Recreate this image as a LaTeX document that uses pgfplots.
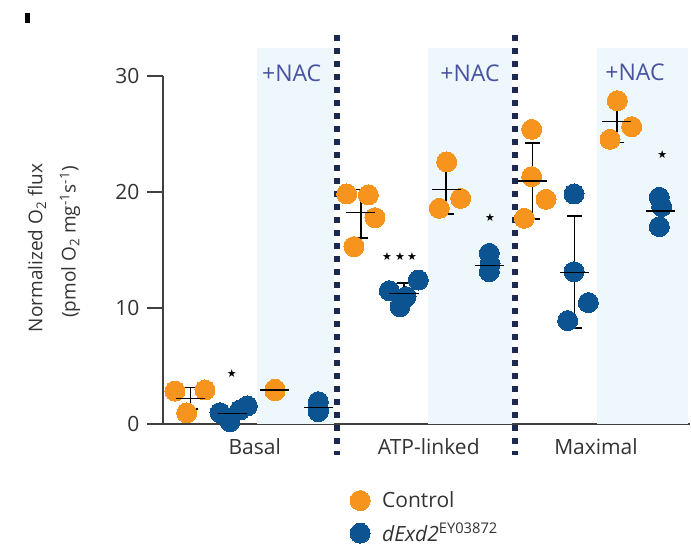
\documentclass[border=0pt]{standalone}
\usepackage{pgfplots}
\pgfplotsset{compat=1.18}
\usepackage{fontspec}
\setmainfont{Open Sans}
\newfontfamily\symfont{DejaVu Sans}
\definecolor{corange}{RGB}{247,148,29}
\definecolor{cblue}{RGB}{11,83,145}
\definecolor{navy}{RGB}{27,40,80}
\definecolor{shadebg}{RGB}{238,247,252}
\definecolor{nacblue}{RGB}{72,82,160}
\definecolor{axgray}{RGB}{64,64,64}
\definecolor{txtgray}{RGB}{51,51,51}
\pgfplotstableread{
x y
175 2.84
205 2.93
186.7 0.95
275 2.93
275 2.86
275 3.00
346.7 19.83
368.3 19.74
375 17.79
354 15.29
446.7 22.6
460.7 19.45
439.3 18.59
531.7 25.4
531.7 21.32
546 19.37
524.3 17.73
617.3 27.87
631.7 25.63
610 24.54
}\ctrl
\pgfplotstableread{
x y
220 0.97
230 0.2
240 1.21
247.3 1.55
318.3 1.92
318.3 1.06
318.3 1.3
389.3 11.49
400 10.11
406 10.98
418.3 12.41
489.3 14.71
489.3 13.13
490 13.8
574 19.83
574 13.13
588.3 10.46
567.7 8.91
659.3 19.54
661.7 18.74
659.3 17.01
}\mut
\pgfplotstableread{
x y ep em
190.7 2.2 0.93 0.93
232.7 0.92 0.35 0.43
275 2.93 0.23 0.20
318.3 1.41 0.43 0.44
361 18.22 2.01 2.21
404 11.26 0.87 1.0
446 20.23 2.04 2.15
489.3 13.65 0.92 0.95
532.3 20.95 3.25 3.28
574.3 13.05 4.88 4.8
616.7 26.06 1.64 1.78
660 18.36 1.24 1.12
}\summ
\begin{document}
\begin{tikzpicture}
\begin{axis}[
  scale only axis, width=527pt, height=348pt,
  xmin=163, xmax=690, ymin=0, ymax=30,
  clip=false,
  axis lines*=left,
  axis line style={-, draw=axgray, line width=1.3pt},
  xtick=\empty,
  ytick={0,10,20,30},
  ytick pos=left, tick align=outside,
  major tick length=16pt,
  ytick style={draw=axgray, line width=1.3pt},
  yticklabel style={font=\fontsize{21}{25}\selectfont, text=txtgray, xshift=-4pt},
  /pgf/number format/assume math mode=true,
  legend style={draw=none, fill=none, at={(axis description cs:0.349,-0.183)}, anchor=north west,
    font=\fontsize{21}{25}\selectfont, text=txtgray, row sep=10pt, column sep=10pt},
  legend cell align=left,
]
% shaded +NAC regions
\addplot[fill=shadebg, draw=none, forget plot] coordinates {(257,32.41) (333.7,32.41)} \closedcycle;
\addplot[fill=shadebg, draw=none, forget plot] coordinates {(427.7,32.41) (512,32.41)} \closedcycle;
\addplot[fill=shadebg, draw=none, forget plot] coordinates {(597,32.41) (688,32.41)} \closedcycle;
% dotted separators
\addplot[navy, line width=6pt, dash pattern=on 6pt off 7pt, forget plot] coordinates {(336.7,33.53) (336.7,-2.67)};
\addplot[navy, line width=6pt, dash pattern=on 6pt off 7pt, forget plot] coordinates {(515,33.53) (515,-2.67)};
% points
\addplot[only marks, color=corange, mark=*, mark size=10pt, mark options={draw=corange, fill=corange, line width=0pt}] table[x=x,y=y] {\ctrl};
\addlegendentry{Control}
\addplot[only marks, color=cblue, mark=*, mark size=10pt, mark options={draw=cblue, fill=cblue, line width=0pt}] table[x=x,y=y] {\mut};
\addlegendentry{\textit{dExd2}\textsuperscript{EY03872}}
% mean and error bars
\addplot[only marks, black, mark=-, mark size=14.5pt, mark options={black, line width=1.6pt}, forget plot,
  error bars/.cd, y dir=both, y explicit,
  error mark=|,
  error bar style={black, line width=1.6pt},
  error mark options={black, line width=1.6pt, mark size=7.5pt}]
  table[x=x, y=y, y error plus=ep, y error minus=em] {\summ};
% significance stars
\node[font=\symfont\fontsize{11}{11}\selectfont] at (axis cs:231.7,4.37) {★};
\node[font=\symfont\fontsize{11}{11}\selectfont] at (axis cs:387,14.4) {★};
\node[font=\symfont\fontsize{11}{11}\selectfont] at (axis cs:400,14.4) {★};
\node[font=\symfont\fontsize{11}{11}\selectfont] at (axis cs:412,14.4) {★};
\node[font=\symfont\fontsize{11}{11}\selectfont] at (axis cs:490,17.79) {★};
\node[font=\symfont\fontsize{11}{11}\selectfont] at (axis cs:662.3,23.19) {★};
% +NAC labels
\node[anchor=base, font=\fontsize{23}{27}\selectfont, text=nacblue] at (axis cs:291.7,29.51) {+NAC};
\node[anchor=base, font=\fontsize{23}{27}\selectfont, text=nacblue] at (axis cs:470,29.51) {+NAC};
\node[anchor=base, font=\fontsize{23}{27}\selectfont, text=nacblue] at (axis cs:635,29.6) {+NAC};
% category labels
\node[anchor=base, font=\fontsize{21}{25}\selectfont, text=txtgray] at (axis cs:254.7,-2.67) {Basal};
\node[anchor=base, font=\fontsize{21}{25}\selectfont, text=txtgray] at (axis cs:428.8,-2.67) {ATP-linked};
\node[anchor=base, font=\fontsize{21}{25}\selectfont, text=txtgray] at (axis cs:596,-2.67) {Maximal};
% y label
\node[rotate=90, font=\fontsize{19}{23}\selectfont, text=txtgray] at (axis cs:37,15.17) {Normalized O\textsubscript{2} flux};
\node[rotate=90, font=\fontsize{19}{23}\selectfont, text=txtgray] at (axis cs:70,15.69) {(pmol O\textsubscript{2} mg\textsuperscript{-1}s\textsuperscript{-1})};
% panel letter remnant
\fill[black] (axis cs:25,35.43) rectangle (axis cs:30,34.57);
\coordinate (bl) at (axis cs:0,-10.69);
\coordinate (tr) at (axis cs:691,36.55);
\end{axis}
\pgfresetboundingbox
\useasboundingbox (bl) rectangle (tr);
\end{tikzpicture}
\end{document}
